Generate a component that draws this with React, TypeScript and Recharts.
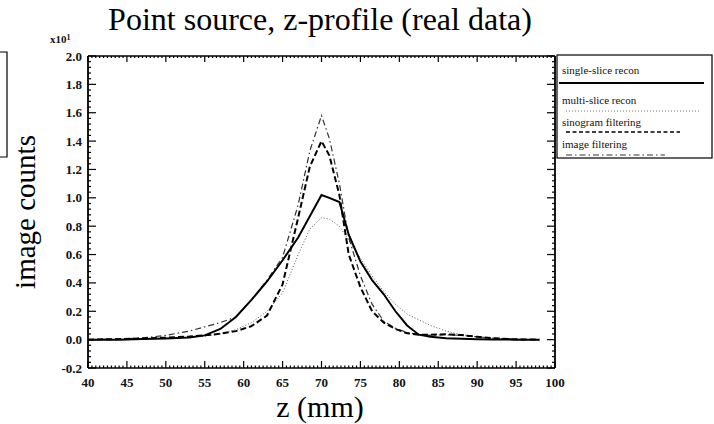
import React from 'react';
import { LineChart, Line, XAxis, YAxis } from 'recharts';

const zValues = [40, 44, 47, 50, 53, 55, 57, 59, 61, 63, 65, 67, 68.5, 70, 71, 72.3, 73.5, 75, 76.5, 78, 79.5, 81, 82.5, 84, 86, 88, 90, 92, 95, 98];
const singleSlice = [0, 0, 0.004, 0.008, 0.015, 0.03, 0.075, 0.16, 0.28, 0.41, 0.56, 0.72, 0.87, 1.02, 1.0, 0.97, 0.74, 0.55, 0.42, 0.32, 0.2, 0.1, 0.035, 0.02, 0.01, 0.006, 0.003, 0.001, 0, 0];
const multiSlice = [0, 0.002, 0.005, 0.009, 0.016, 0.025, 0.04, 0.07, 0.12, 0.2, 0.33, 0.6, 0.78, 0.86, 0.85, 0.8, 0.7, 0.575, 0.45, 0.34, 0.25, 0.18, 0.14, 0.1, 0.06, 0.035, 0.02, 0.01, 0.002, 0];
const sinogramFiltering = [0, 0.004, 0.008, 0.014, 0.022, 0.03, 0.042, 0.06, 0.095, 0.17, 0.39, 0.86, 1.22, 1.4, 1.3, 1.02, 0.6, 0.37, 0.2, 0.12, 0.075, 0.045, 0.035, 0.034, 0.038, 0.032, 0.02, 0.01, 0.002, 0];
const imageFiltering = [0, 0.003, 0.012, 0.03, 0.06, 0.09, 0.12, 0.16, 0.28, 0.42, 0.58, 0.95, 1.33, 1.58, 1.42, 1.1, 0.72, 0.45, 0.25, 0.13, 0.08, 0.05, 0.035, 0.03, 0.035, 0.03, 0.02, 0.01, 0.002, 0];

const xMajorTicks = [40, 45, 50, 55, 60, 65, 70, 75, 80, 85, 90, 95, 100];
const yMajorTicks = [-0.2, 0, 0.2, 0.4, 0.6, 0.8, 1.0, 1.2, 1.4, 1.6, 1.8, 2.0];
const yTickLabels = ['-0.2', '0.0', '0.2', '0.4', '0.6', '0.8', '1.0', '1.2', '1.4', '1.6', '1.8', '2.0'];

const legendItems = ['single-slice recon', 'multi-slice recon', 'sinogram filtering', 'image filtering'];

const data = zValues.map((z, i) => ({
  z,
  single: singleSlice[i],
  multi: multiSlice[i],
  sino: sinogramFiltering[i],
  image: imageFiltering[i],
}));

const xMinor: number[] = [];
for (let i = 0; i <= 120; i++) xMinor.push(40 + i * 0.5);
const yMinor: number[] = [];
for (let i = 0; i <= 55; i++) yMinor.push(Math.round((-0.2 + i * 0.04) * 1000) / 1000);

const isMajorX = (v: number) => xMajorTicks.some((t) => Math.abs(t - v) < 1e-6);
const isMajorY = (v: number) => yMajorTicks.some((t) => Math.abs(t - v) < 1e-6);
const yLabel = (v: number) => {
  const idx = yMajorTicks.findIndex((t) => Math.abs(t - v) < 1e-6);
  return idx >= 0 ? yTickLabels[idx] : '';
};

const FONT = '"Liberation Serif", "DejaVu Serif", serif';

const LeftTick = (p: any) => {
  const { x, y, payload } = p;
  const major = isMajorY(payload.value);
  return (
    <g>
      <line x1={x} x2={x + (major ? 8 : 3)} y1={y} y2={y} stroke="#000" strokeWidth={1.2} />
      {major && (
        <text x={x - 6} y={y} dy="0.35em" textAnchor="end" fontFamily={FONT} fontSize={13} fontWeight="bold" fill="#111">
          {yLabel(payload.value)}
        </text>
      )}
    </g>
  );
};

const RightTick = (p: any) => {
  const { x, y, payload } = p;
  const major = isMajorY(payload.value);
  return <line x1={x} x2={x - (major ? 8 : 3)} y1={y} y2={y} stroke="#000" strokeWidth={1.2} />;
};

const BottomTick = (p: any) => {
  const { x, y, payload } = p;
  const major = isMajorX(payload.value);
  return (
    <g>
      <line x1={x} x2={x} y1={y} y2={y - (major ? 7 : 2.5)} stroke="#000" strokeWidth={1.2} />
      {major && (
        <text x={x} y={y + 19} textAnchor="middle" fontFamily={FONT} fontSize={13} fontWeight="bold" fill="#111">
          {String(payload.value)}
        </text>
      )}
    </g>
  );
};

const TopTick = (p: any) => {
  const { x, y, payload } = p;
  const major = isMajorX(payload.value);
  return <line x1={x} x2={x} y1={y} y2={y + (major ? 6 : 2)} stroke="#000" strokeWidth={1.2} />;
};

export default function App() {
  return (
    <div style={{ position: 'absolute', left: 0, top: 0, width: 714, height: 424, background: '#fff' }}>
      <div style={{ position: 'absolute', left: 0, top: 0 }}>
        <LineChart width={714} height={424} data={data} margin={{ top: 36, right: 139, bottom: 36, left: 68 }}>
          <XAxis
            xAxisId="b"
            dataKey="z"
            type="number"
            domain={[40, 100]}
            allowDataOverflow
            ticks={xMinor}
            interval={0}
            height={20}
            tickSize={0}
            tickMargin={0}
            tickLine={false}
            tick={BottomTick}
            axisLine={{ stroke: '#000', strokeWidth: 1.6 }}
          />
          <XAxis
            xAxisId="t"
            orientation="top"
            dataKey="z"
            type="number"
            domain={[40, 100]}
            allowDataOverflow
            ticks={xMinor}
            interval={0}
            height={20}
            tickSize={0}
            tickMargin={0}
            tickLine={false}
            tick={TopTick}
            axisLine={{ stroke: '#000', strokeWidth: 1.6 }}
          />
          <YAxis
            yAxisId="l"
            type="number"
            domain={[-0.2, 2.0]}
            allowDataOverflow
            ticks={yMinor}
            interval={0}
            width={20}
            tickSize={0}
            tickMargin={0}
            tickLine={false}
            tick={LeftTick}
            axisLine={{ stroke: '#000', strokeWidth: 1.8 }}
          />
          <YAxis
            yAxisId="r"
            orientation="right"
            type="number"
            domain={[-0.2, 2.0]}
            allowDataOverflow
            ticks={yMinor}
            interval={0}
            width={20}
            tickSize={0}
            tickMargin={0}
            tickLine={false}
            tick={RightTick}
            axisLine={{ stroke: '#000', strokeWidth: 1.8 }}
          />
          <Line xAxisId="b" yAxisId="l" type="linear" dataKey="multi" stroke="#555" strokeWidth={1} strokeDasharray="1 2" dot={false} isAnimationActive={false} />
          <Line xAxisId="b" yAxisId="l" type="linear" dataKey="image" stroke="#333" strokeWidth={1.2} strokeDasharray="6 3 1.5 3" dot={false} isAnimationActive={false} />
          <Line xAxisId="b" yAxisId="l" type="linear" dataKey="sino" stroke="#000" strokeWidth={2} strokeDasharray="6 3" dot={false} isAnimationActive={false} />
          <Line xAxisId="b" yAxisId="l" type="linear" dataKey="single" stroke="#000" strokeWidth={2} dot={false} isAnimationActive={false} />
        </LineChart>
      </div>
      <svg width={714} height={424} style={{ position: 'absolute', left: 0, top: 0, pointerEvents: 'none' }}>
        <text x={320} y={30} textAnchor="middle" fontFamily={FONT} fontSize={32} fill="#000">
          Point source, z-profile (real data)
        </text>
        <text x={50} y={43} fontFamily={FONT} fontSize={11} fontWeight="bold" fill="#111">
          x10<tspan dy={-3} fontSize={8}>1</tspan>
        </text>
        <text transform="translate(35,212) rotate(-90)" textAnchor="middle" fontFamily={FONT} fontSize={29} fill="#000">
          image counts
        </text>
        <text x={320} y={417} textAnchor="middle" fontFamily={FONT} fontSize={30} fill="#000">
          z (mm)
        </text>
        <path d="M0 52 H7 V157 H0" fill="none" stroke="#000" strokeWidth={1.2} />
        <rect x={557} y={55} width={155} height={103} fill="#fff" stroke="#000" strokeWidth={1.2} />
        <text x={562} y={74} fontFamily={FONT} fontSize={11} fill="#111">{legendItems[0]}</text>
        <line x1={559} x2={704} y1={83} y2={83} stroke="#000" strokeWidth={1.8} />
        <text x={562} y={104} fontFamily={FONT} fontSize={11} fill="#111">{legendItems[1]}</text>
        <line x1={566} x2={700} y1={111} y2={111} stroke="#777" strokeWidth={1} strokeDasharray="1 2" />
        <text x={562} y={126} fontFamily={FONT} fontSize={11} fill="#111">{legendItems[2]}</text>
        <line x1={566} x2={680} y1={132} y2={132} stroke="#000" strokeWidth={1.4} strokeDasharray="4 2.5" />
        <text x={562} y={148} fontFamily={FONT} fontSize={11} fill="#111">{legendItems[3]}</text>
        <line x1={566} x2={665} y1={155} y2={155} stroke="#333" strokeWidth={1} strokeDasharray="6 3 1.5 3" />
      </svg>
    </div>
  );
}
